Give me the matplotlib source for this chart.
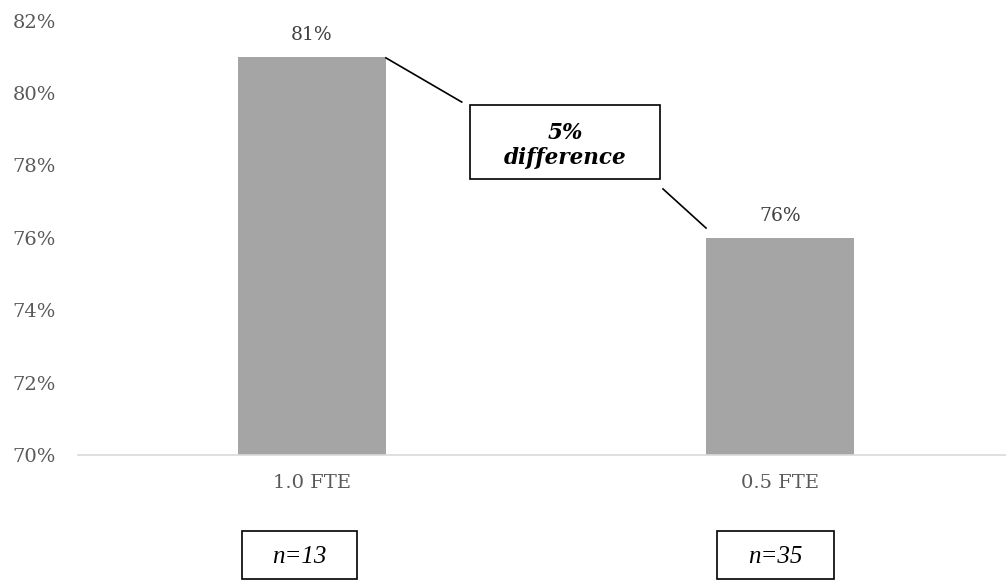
import matplotlib
matplotlib.use("Agg")
import matplotlib.pyplot as plt
from matplotlib.patches import Rectangle

categories = ["1.0 FTE", "0.5 FTE"]
values = [81, 76]
sample_sizes = ["n=13", "n=35"]
yticks = [70, 72, 74, 76, 78, 80, 82]
diff_label = "5%\ndifference"

plt.rcParams["font.family"] = ["DejaVu Serif"]

W, H = 1006, 580
fig = plt.figure(figsize=(W / 100, H / 100), dpi=100)
ax = fig.add_axes([78 / W, 125 / H, 928 / W, 434.4 / H])

x = list(range(len(categories)))
bar_w = 0.316
ax.bar(x, values, width=bar_w, color="#a5a5a5", zorder=2)

ax.set_ylim(70, 82)
ax.set_xlim(-0.5, 1.483)
ax.set_yticks(yticks)
ax.set_yticklabels([f"{t}%" for t in yticks], fontsize=14, color="#595959")
ax.set_xticks(x)
ax.set_xticklabels(categories, fontsize=14, color="#595959")
ax.tick_params(axis="both", length=0)
ax.tick_params(axis="y", pad=16)
ax.tick_params(axis="x", pad=13.5)

for s in ["top", "right", "left"]:
    ax.spines[s].set_visible(False)
ax.spines["bottom"].set_color("#d9d9d9")
ax.spines["bottom"].set_linewidth(1.2)

# value labels above the bars
for xi, v in zip(x, values):
    ax.annotate(f"{v}%", (xi, v), xytext=(0, 16), textcoords="offset points",
                ha="center", va="center", fontsize=13.5, color="#404040")

# difference callout box with leader lines
box_x0, box_x1 = 0.338, 0.744
box_y0, box_y1 = 77.62, 79.67
ax.add_patch(Rectangle((box_x0, box_y0), box_x1 - box_x0, box_y1 - box_y0,
                       facecolor="white", edgecolor="black", linewidth=1.2, zorder=3))
ax.text((box_x0 + box_x1) / 2, (box_y0 + box_y1) / 2 - 0.1, diff_label,
        ha="center", va="center", fontsize=15.5, fontweight="bold", fontstyle="italic",
        linespacing=1.15, color="black", zorder=4)
ax.plot([x[0] + bar_w / 2, 0.32], [values[0] - 0.03, 79.75], color="black", lw=1.2, zorder=3)
ax.plot([0.75, x[1] - bar_w / 2], [77.35, values[1] + 0.27], color="black", lw=1.2, zorder=3)

# sample size boxes beneath the categories
for cx_px, w_px, label in zip([299.5, 775.5], [115, 117], sample_sizes):
    h_px = 48
    fig.add_artist(Rectangle(((cx_px - w_px / 2) / W, 1 / H), w_px / W, h_px / H,
                             transform=fig.transFigure, facecolor="white",
                             edgecolor="black", linewidth=1.2))
    fig.text(cx_px / W, (H - 557) / H, label, ha="center", va="center",
             fontsize=18, fontstyle="italic", family=["Liberation Serif"], color="black")

fig.savefig("out.png", dpi=100)
